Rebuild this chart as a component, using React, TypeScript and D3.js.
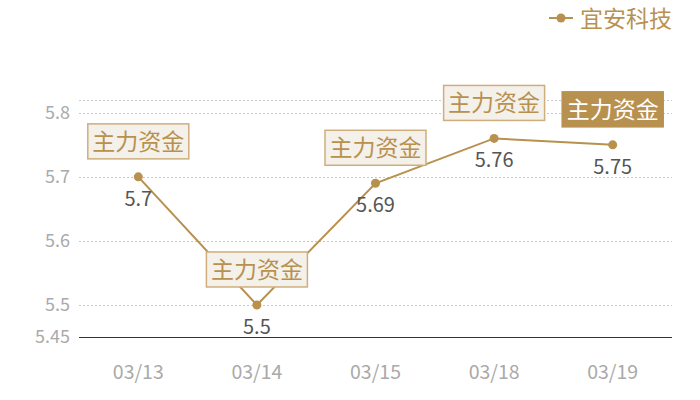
import React from "react";
import * as d3 from "d3";

const categories = ["03/13", "03/14", "03/15", "03/18", "03/19"];
const values = [5.7, 5.5, 5.69, 5.76, 5.75];
const yTicks = [5.45, 5.5, 5.6, 5.7, 5.8];
const seriesName = "宜安科技";
const markLabel = "主力资金";
const highlighted = [false, false, false, false, true];

const W = 700, H = 400;
const left = 79, right = 672, top = 100, bottom = 337;
const gold = "#b8914f";
const font = "'Noto Sans CJK SC', 'Noto Sans', sans-serif";

export default function App() {
  const x = d3.scaleBand<string>().domain(categories).range([left, right]);
  const y = d3.scaleLinear().domain([5.45, 5.82]).range([bottom, top]);
  const cx = (c: string) => (x(c) as number) + x.bandwidth() / 2;
  const line = d3.line<number>().x((_, i) => cx(categories[i])).y((v) => y(v));
  const gridVals = [...yTicks.filter((t) => t > 5.45), 5.82];
  const bw = 101, bh = 35;
  return (
    <svg width={W} height={H} style={{ position: "absolute", left: 0, top: 0 }} fontFamily={font}>
      {gridVals.map((t, i) => (
        <line key={i} x1={left} x2={right} y1={Math.round(y(t)) + 0.5} y2={Math.round(y(t)) + 0.5}
          stroke="#c8c8c8" strokeDasharray="2,2" strokeWidth={1} />
      ))}
      <line x1={left} x2={right} y1={bottom + 0.5} y2={bottom + 0.5} stroke="#333" strokeWidth={1} />
      {yTicks.map((t) => (
        <text key={t} x={70} y={y(t)} dy="0.35em" textAnchor="end" fill="#aaa" fontSize={18}>{t}</text>
      ))}
      {categories.map((c) => (
        <text key={c} x={cx(c)} y={372} dy="0.35em" textAnchor="middle" fill="#aaa" fontSize={19.5}>{c}</text>
      ))}
      <path d={line(values) || ""} fill="none" stroke={gold} strokeWidth={2} />
      {values.map((v, i) => (
        <circle key={i} cx={cx(categories[i])} cy={y(v)} r={4.5} fill={gold} />
      ))}
      {values.map((v, i) => (
        <text key={"v" + i} x={cx(categories[i])} y={y(v) + 22} dy="0.35em" textAnchor="middle" fill="#555" fontSize={20}>{v}</text>
      ))}
      {values.map((v, i) => {
        const bx = cx(categories[i]) - bw / 2;
        const by = y(v) - 18 - bh;
        const hl = highlighted[i];
        return (
          <g key={"b" + i}>
            <rect x={bx} y={by} width={bw} height={bh} fill={hl ? gold : "#f4f0ea"} stroke={hl ? gold : "#cfae7c"} strokeWidth={1.5} />
            <text x={bx + bw / 2} y={by + bh / 2} dy="0.36em" textAnchor="middle" fill={hl ? "#fff" : gold} fontSize={23}>{markLabel}</text>
          </g>
        );
      })}
      <line x1={549} x2={573} y1={18} y2={18} stroke={gold} strokeWidth={2} />
      <circle cx={561} cy={18} r={4.5} fill={gold} />
      <text x={580} y={18.5} dy="0.36em" fill={gold} fontSize={23}>{seriesName}</text>
    </svg>
  );
}
